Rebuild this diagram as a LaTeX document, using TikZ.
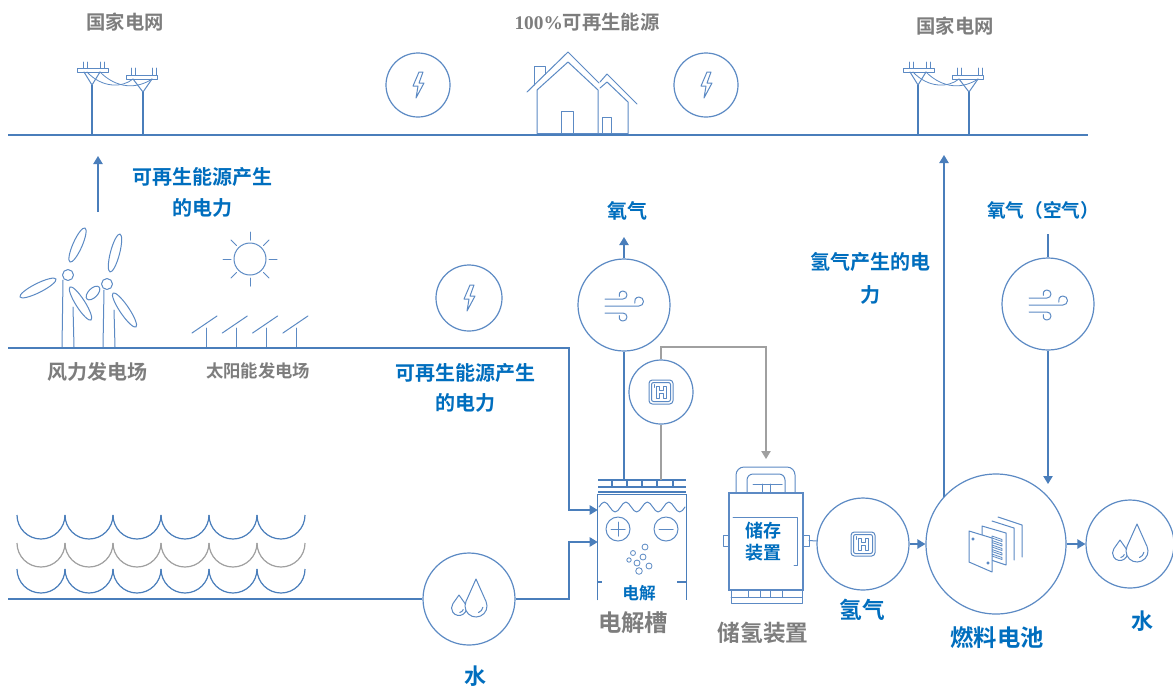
\documentclass[tikz,border=0pt]{standalone}
\usepackage{fontspec}
\newfontfamily\cjk{Noto Sans CJK SC}[BoldFont={Noto Sans CJK SC Bold}]
\newfontfamily\numfont{Liberation Serif}
\usetikzlibrary{arrows.meta,calc}

\definecolor{lineblue}{RGB}{74,126,187}
\definecolor{iconblue}{RGB}{92,138,196}
\definecolor{textblue}{RGB}{0,110,190}
\definecolor{labelgray}{RGB}{125,125,125}
\definecolor{linegray}{RGB}{160,160,160}

\newcommand\fsz[2]{\fontsize{#1}{#2}\selectfont}
% turbine blade: centre, length, direction
\newcommand\turbineblade[4]{\draw[icon, fill=white, rotate around={#4:(#1,#2)}] (#1,#2) ellipse[x radius=#3, y radius=4.6];}

\tikzset{
  flow/.style={draw=lineblue, line width=1pt},
  grayflow/.style={draw=linegray, line width=1pt},
  tip/.style={-{Triangle[length=6pt,width=7pt]}},
  ring/.style={circle, draw=iconblue, line width=0.9pt, inner sep=0pt, minimum size=#1, fill=white},
  icon/.style={draw=iconblue, line width=0.75pt, line join=round, line cap=round},
  bluelabel/.style={text=textblue, inner sep=0pt, align=center},
  graylabel/.style={text=labelgray, inner sep=0pt, align=center},
  % lightning bolt
  bolt/.pic={
    \draw[icon] (1,-13) -- ++(-6,14) -- ++(5,0) -- ++(-2,12) -- ++(8,-15) -- ++(-5,0) -- ++(4,-11) -- cycle;
  },
  % gust of wind
  gust/.pic={
    \draw[icon] (-19,-6) -- (-1,-6) arc[start angle=90, end angle=-200, radius=4];
    \draw[icon] (-19,1) -- (15,1) arc[start angle=90, end angle=-200, radius=4.5];
    \draw[icon] (-19,8) -- (-1,8) arc[start angle=-90, end angle=200, radius=4];
  },
  % two water drops
  drops/.pic={
    \draw[icon, fill=white] (-10,-4) -- ($(-10,9)+(-35.2:7.5)$) arc[start angle=-35.2, end angle=215.2, radius=7.5] -- cycle;
    \draw[icon] ($(-10,9)+(20:4.5)$) arc[start angle=20, end angle=80, radius=4.5];
    \draw[icon, fill=white] (7,-20) -- ($(7,7)+(-24:11)$) arc[start angle=-24, end angle=204, radius=11] -- cycle;
    \draw[icon] ($(7,7)+(10:7)$) arc[start angle=10, end angle=70, radius=7];
  },
  % hydrogen badge
  hbadge/.pic={
    \draw[icon, rounded corners=2.5pt] (-12,-12) rectangle (12,12);
    \draw[icon, rounded corners=1.5pt] (-9.5,-9.5) rectangle (9.5,9.5);
    \draw[icon, line width=0.6pt] (-5,-6) -- (-2,-6) -- (-2,-1.2) -- (2,-1.2) -- (2,-6) -- (5,-6) -- (5,6) -- (2,6) -- (2,1.2) -- (-2,1.2) -- (-2,6) -- (-5,6) -- cycle;
    \draw[icon, line width=0.6pt] (-7,-7.5) -- (-7,-4.5);
  },
  % pair of power pylons, origin at the foot of the first pole
  pylons/.pic={
    \draw[icon] (-15,-67) rectangle (16,-63);
    \foreach \u in {-9,-5,8,12} \draw[icon] (\u,-73) -- (\u,-67);
    \draw[icon] (-8,-63) -- (0,-50) -- (8,-63);
    \draw[flow] (0,-50) -- (0,0);
    \draw[icon] (34,-60) rectangle (65,-56);
    \foreach \u in {39,43,60,64} \draw[icon] (\u,-67) -- (\u,-60);
    \draw[icon] (41,-56) -- (51,-43) -- (60,-56);
    \draw[flow] (51,-43) -- (51,0);
    \draw[icon, line width=0.6pt] (-5,-63) .. controls (10,-47) and (30,-47) .. (41,-56);
    \draw[icon, line width=0.6pt] (8,-63) .. controls (25,-46) and (45,-46) .. (60,-56);
  }
}

\begin{document}
\begin{tikzpicture}[x=0.75pt,y=-0.75pt]
\fill[white] (0,0) rectangle (1173,687);
\useasboundingbox (0,0) rectangle (1173,687);

% ---------- grid level ----------
\coordinate (gridL) at (8,135);
\coordinate (gridR) at (1088,135);
\draw[flow] (gridL) -- (gridR);
\pic at (92,135) {pylons};
\pic at (918,135) {pylons};

\node[graylabel, font=\cjk\bfseries\fsz{14.5}{17}] (gridTxtA) at (125,22) {国家电网};
\node[graylabel, font=\cjk\bfseries\fsz{14.5}{17}] (gridTxtB) at (955,26) {国家电网};
\node[graylabel, font=\cjk\bfseries\fsz{14.5}{17}] (greenTxt) at (587,22) {{\numfont\bfseries 100\%}可再生能源};

\node[ring=48pt] (boltA) at (418,85) {};
\pic at (boltA) {bolt};
\node[ring=48pt] (boltB) at (706,85) {};
\pic at (boltB) {bolt};

% houses
\draw[icon] (527,92) -- (568,52) -- (599,83);
\draw[icon] (600,82) -- (607,74) -- (637,104);
\draw[icon] (537,133) -- (537,90) -- (568,62) -- (598,90) -- (598,133);
\draw[icon] (600,88) -- (607,82) -- (628,102) -- (628,133);
\draw[icon] (537,133) -- (628,133);
\draw[icon] (534,85) -- (534,66) -- (545,66) -- (545,74);
\draw[icon] (561,133) -- (561,111) -- (573,111) -- (573,133);
\draw[icon] (602,133) -- (602,117) -- (611,117) -- (611,133);

% ---------- renewable generation ----------
\coordinate (renTail) at (98,212);
\coordinate (renTip) at (98,156);
\draw[flow, tip] (renTail) -- (renTip);
\node[bluelabel, font=\cjk\bfseries\fsz{15}{23}] (renTxtA) at (202,192.5) {可再生能源产生\\的电力};

% wind turbines: towers
\draw[icon] (63,280) -- (62,347);
\draw[icon] (73,307) -- (74,347);
\draw[icon] (104,290) -- (103,347);
\draw[icon] (114,310) -- (115,347);
% blades, back turbine first
\turbineblade{93}{293}{8.5}{45}
\turbineblade{115}{253}{19.6}{75.3}
\turbineblade{124.5}{310}{20.5}{-55.9}
\turbineblade{77.5}{245}{18.6}{66.2}
\turbineblade{38}{288}{20.1}{26.6}
\turbineblade{80.5}{303.5}{19.6}{-57.5}
\draw[icon, fill=white] (68,275) circle[radius=5.5];
\draw[icon, fill=white] (107,284) circle[radius=5.5];

% sun
\draw[icon] (250,259) circle[radius=16];
\foreach \a in {0,45,...,315}
  \draw[icon] ($(250,259)+(\a:19)$) -- ($(250,259)+(\a:27)$);
% solar panels
\foreach \k in {0,1,2,3} {
  \draw[icon] ({192+30.3*\k},333) -- ({217+30.3*\k},316);
  \draw[icon] ({206+30.3*\k},328) -- ({206+30.3*\k},347);
}

\node[graylabel, font=\cjk\bfseries\fsz{15}{17}] (windTxt) at (97,372) {风力发电场};
\node[graylabel, font=\cjk\bfseries\fsz{13}{15}] (solarTxt) at (258,371) {太阳能发电场};

% ---------- electrolyser ----------
\node[minimum width=66pt, minimum height=78.75pt, inner sep=0pt] (elyz) at (642,547.5) {};
\draw[flow] (elyz.south west) -- (elyz.north west) -- (elyz.north east) -- (elyz.south east);
\draw[flow] (598,480) -- (686,480);
\draw[flow] (598,487) -- (686,487);
\draw[flow] (598,492) -- (686,492);
\foreach \u in {612,627,642,657,673} \draw[flow] (\u,480) -- (\u,487);
\draw[icon] (599,507)
  \foreach \p in {1,2,3,4} { sin ++(5.375,-5) cos ++(5.375,5) sin ++(5.375,5) cos ++(5.375,-5) };
\draw[icon] (618,529) circle[radius=12];
\draw[icon] (611,529) -- (625,529) (618,522) -- (618,536);
\draw[icon] (666,529) circle[radius=12];
\draw[icon] (659,529) -- (673,529);
\foreach \bx/\by/\br in {645/547/3, 633/553/2.5, 643/557/3, 629/560/2.2, 637/563/3, 649/566/3, 639/571/3.3}
  \draw[icon, line width=0.6pt] (\bx,\by) circle[radius=\br];
\draw[flow] (598,582) -- (602,582);
\draw[flow] (677,582) -- (686,582);
\node[bluelabel, font=\cjk\bfseries\fsz{12.5}{14}] (elyzTag) at (639,593) {电解};
\node[graylabel, font=\cjk\bfseries\fsz{17.5}{20}] (elyzTxt) at (633,623) {电解槽};

% power feed into the electrolyser
\coordinate (midL) at (8,348);
\coordinate (jct1) at (569,510);
\draw[flow, tip] (midL) -| (jct1) -- (jct1 -| elyz.west);

\node[ring=49.5pt] (boltC) at (469,298) {};
\pic at (boltC) {bolt};
\node[bluelabel, font=\cjk\bfseries\fsz{15}{22.5}] (renTxtB) at (465,388) {可再生能源产生\\的电力};

% water feed
\coordinate (waterL) at (8,599);
\coordinate (jct2) at (569,542);
\node[ring=69pt] (water1) at (469,599) {};
\pic at (water1) {drops};
\draw[flow] (waterL) -- (water1);
\draw[flow, tip] (water1) -| (jct2) -- (jct2 -| elyz.west);
\node[bluelabel, font=\cjk\bfseries\fsz{16.5}{18}] (waterTxtA) at (475,676) {水};

% sea
\foreach \y/\c in {515/lineblue, 543/linegray, 569/lineblue}
  \foreach \i in {0,...,5}
    \draw[draw=\c, line width=0.9pt] ({17+48*\i},\y) arc[start angle=180, end angle=0, radius=24];

% oxygen out of the electrolyser
\coordinate (elTop) at (642,480);
\node[ring=69pt] (o2) at (624,305) {};
\pic at (o2) {gust};
\coordinate (o2tip) at (624,237);
\draw[flow] (o2) -- (o2 |- elTop);
\draw[flow, tip] (o2) -- (o2tip);
\node[bluelabel, font=\cjk\bfseries\fsz{15}{17}] (o2Txt) at (627,211) {氧气};

% hydrogen to storage
\node[ring=48pt] (h2a) at (661,392) {};
\pic at (h2a) {hbadge};
\draw[grayflow] (h2a) -- (h2a |- elTop);
\coordinate (grayCorner) at (766,347);
\coordinate (storeTip) at (766,459);
\draw[grayflow, tip] (h2a.north) |- (grayCorner) -- (storeTip);

% ---------- storage tank ----------
\node[draw=iconblue, line width=0.9pt, minimum width=55.5pt, minimum height=72.75pt, inner sep=0pt] (tank) at (766,541.5) {};
\draw[icon, rounded corners=6pt] (736,493) -- (736,467) -- (795,467) -- (795,493);
\draw[icon, rounded corners=4.5pt] (747,493) -- (747,474) -- (785,474) -- (785,493);
\draw[icon] (753,484) -- (782,484) (762,484) -- (762,493) (770,484) -- (770,493);
\draw[icon] (723,535) rectangle (729,546);
\draw[icon] (803,535) rectangle (809,546);
\draw[icon] (733,517) -- (797,517) -- (797,565) -- (794,565);
\draw[icon] (731,590) rectangle (802,603);
\draw[icon] (731,597) -- (802,597);
\foreach \u in {748,760,770,782} \draw[icon] (\u,590) -- (\u,597);
\node[bluelabel, font=\cjk\bfseries\fsz{13.5}{16.5}] (tankTag) at (763,542) {储存\\装置};
\node[graylabel, font=\cjk\bfseries\fsz{17}{20}] (tankTxt) at (763,633) {储氢装置};

\coordinate (tabR) at (809,540.5);
\node[ring=69pt] (h2b) at (863,544) {};
\pic at (h2b) {hbadge};
\draw[icon] (tabR) -- (h2b);
\node[bluelabel, font=\cjk\bfseries\fsz{17}{19}] (h2Txt) at (862,610) {氢气};

% ---------- fuel cell ----------
\node[ring=105pt] (fc) at (996,544) {};
\draw[flow, tip] (h2b) -- (fc);
% stacked plates
\draw[icon] (998,517) -- (1022,525) -- (1022,557);
\draw[icon] (992,521) -- (1014,528) -- (1014,560);
\draw[icon, fill=white] (982,526) -- (1006,533) -- (1006,565) -- (982,557) -- cycle;
\foreach \k in {0,...,4}
  \draw[icon, line width=0.6pt] (992,{536+4.5*\k}) -- (1002,{539.5+4.5*\k}) -- (1002,{541.5+4.5*\k}) -- (992,{538+4.5*\k}) -- cycle;
\draw[icon, fill=white] (969,531) -- (992,538) -- (992,572) -- (969,562) -- cycle;
\draw[icon, fill=iconblue] (973,539) circle[radius=1.1];
\draw[icon, fill=iconblue] (988,563) circle[radius=1.1];
\node[bluelabel, font=\cjk\bfseries\fsz{17.5}{20}] (fcTxt) at (997,638) {燃料电池};

% electricity from hydrogen back to the grid
\coordinate (hpTip) at (944,155);
\draw[flow, tip] (hpTip |- fc.138) -- (hpTip);
\node[bluelabel, font=\cjk\bfseries\fsz{15}{24.5}] (hpTxt) at (870,278.5) {氢气产生的电\\力};

% air supply
\coordinate (airTop) at (1048,234);
\coordinate (airTip) at (1048,484);
\node[ring=69pt] (air) at (1048,304) {};
\pic at (air) {gust};
\draw[flow] (airTop) -- (air);
\draw[flow, tip] (air) -- (airTip);
\node[bluelabel, font=\cjk\bfseries\fsz{14}{16}] (airTxt) at (1043,210) {氧气（空气）};

% water out
\node[ring=66pt] (water2) at (1130,544) {};
\pic at (water2) {drops};
\draw[flow, tip] (fc) -- (water2);
\node[bluelabel, font=\cjk\bfseries\fsz{16.5}{18}] (waterTxtB) at (1142,621) {水};

\end{tikzpicture}
\end{document}
